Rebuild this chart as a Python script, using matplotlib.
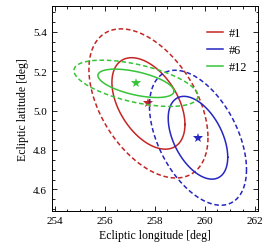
import numpy as np
import matplotlib
matplotlib.use("Agg")
import matplotlib.pyplot as plt
from matplotlib.ticker import MultipleLocator

plt.rcParams['font.family'] = ['Liberation Serif', 'DejaVu Serif']
plt.rcParams['mathtext.fontset'] = 'stix'

# error ellipses: centre, half extents (inner level), correlation
labels = ['#1', '#6', '#12']
colors = ['#c42626', '#2626c0', '#38c438']
lon = [257.74, 259.72, 257.24]
lat = [5.036, 4.862, 5.138]
dlon = [1.46, 1.19, 1.52]
dlat = [0.232, 0.210, 0.072]
corr = [-0.46, -0.47, -0.55]
levels = [1.0, 1.63]

fig = plt.figure(figsize=(2.66, 2.51), dpi=100)
ax = fig.add_axes([0.195, 0.155, 0.775, 0.817])

t = np.linspace(0, 2*np.pi, 400)
for i in range(len(labels)):
    phi = np.arccos(corr[i])
    for j, k in enumerate(levels):
        x = lon[i] + k*dlon[i]*np.cos(t)
        y = lat[i] + k*dlat[i]*np.cos(t + phi)
        if j == 0:
            ax.plot(x, y, color=colors[i], lw=1.1, label=labels[i])
        else:
            ax.plot(x, y, color=colors[i], lw=1.1, dashes=(3, 1.8))
    ax.plot(lon[i], lat[i], '*', color=colors[i], ms=7, mew=0)

ax.set_xlim(253.88, 262.12)
ax.set_ylim(4.49, 5.53)
ax.xaxis.set_major_locator(MultipleLocator(2))
ax.xaxis.set_minor_locator(MultipleLocator(0.5))
ax.yaxis.set_major_locator(MultipleLocator(0.2))
ax.yaxis.set_minor_locator(MultipleLocator(0.05))
ax.yaxis.set_major_formatter(matplotlib.ticker.FormatStrFormatter('%.1f'))
ax.tick_params(which='both', direction='in', top=True, right=True, labelsize=8, width=0.6)
ax.tick_params(which='major', length=3.5)
ax.tick_params(which='minor', length=1.8)
for s in ax.spines.values():
    s.set_linewidth(0.7)
ax.set_xlabel('Ecliptic longitude [deg]', fontsize=8.5, labelpad=3)
ax.set_ylabel('Ecliptic latitude [deg]', fontsize=8.5, labelpad=3)
ax.legend(loc='upper right', bbox_to_anchor=(1.0, 0.95), frameon=False,
          fontsize=8.8, handlelength=1.3, handletextpad=0.45, labelspacing=0.4,
          borderaxespad=0.5)

plt.savefig('out.png', dpi=100)
